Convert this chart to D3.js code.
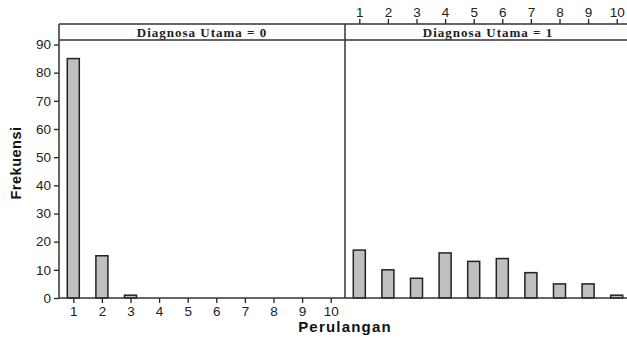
<!DOCTYPE html>
<html><head><meta charset="utf-8">
<script src="https://cdn.jsdelivr.net/npm/d3@7"></script>
<style>body{margin:0;background:#fff}svg{display:block}</style>
</head><body>
<script>
const categories = ["1","2","3","4","5","6","7","8","9","10"];
const panels = ["Diagnosa Utama = 0", "Diagnosa Utama = 1"];
const values0 = [85, 15, 1, 0, 0, 0, 0, 0, 0, 0];
const values1 = [17, 10, 7, 16, 13, 14, 9, 5, 5, 1];
const yTicks = [0,10,20,30,40,50,60,70,80,90];

(function () {
const W = 627, H = 338;
const mLeft = 59, mTop = 24, stripH = 16, mBottom = 298, panelW = 286;
const svg = d3.select("body").append("svg").attr("width", W).attr("height", H);

const y = d3.scaleLinear().domain([0, 90]).range([mBottom, mTop + 20.5]);
const series = [values0, values1];

function styleAxis(ga) {
  ga.selectAll("line").attr("stroke", "#222").attr("stroke-width", 1.3);
  ga.selectAll("text").attr("font-family", "Liberation Sans, Arial, sans-serif").attr("font-size", 13.5).attr("fill", "#222");
}

series.forEach((vals, i) => {
  const x0 = mLeft + i * panelW;
  const x = d3.scaleBand().domain(categories).range([x0, x0 + panelW]).paddingInner(0.58).paddingOuter(0.29);
  const g = svg.append("g");
  g.selectAll("rect").data(vals.map((v, k) => ({c: categories[k], v})).filter(d => d.v > 0))
    .enter().append("rect")
    .attr("x", d => x(d.c)).attr("width", x.bandwidth())
    .attr("y", d => y(d.v)).attr("height", d => mBottom - y(d.v))
    .attr("fill", "#c0c0c0").attr("stroke", "#222").attr("stroke-width", 1.5);
  svg.append("text").attr("x", x0 + panelW / 2).attr("y", mTop + 12.5)
    .attr("text-anchor", "middle").attr("font-family", "Liberation Serif, serif")
    .attr("font-weight", "bold").attr("font-size", 13).attr("fill", "#222")
    .attr("letter-spacing", 1).text(panels[i]);
  const pts = d3.scalePoint().domain(categories).range([x0 + panelW / 20, x0 + panelW - panelW / 20]);
  if (i === 0) {
    const ga = svg.append("g").attr("transform", `translate(0,${mBottom})`).call(d3.axisBottom(pts).tickSize(5).tickPadding(3));
    ga.select(".domain").remove();
    styleAxis(ga);
  } else {
    const ga = svg.append("g").attr("transform", `translate(0,${mTop})`).call(d3.axisTop(pts).tickSize(5).tickPadding(2));
    ga.select(".domain").remove();
    styleAxis(ga);
  }
});

const gy = svg.append("g").attr("transform", `translate(${mLeft},0)`)
  .call(d3.axisLeft(y).tickValues(yTicks).tickSize(5).tickPadding(3));
gy.select(".domain").remove();
styleAxis(gy);

const lc = "#333";
function hline(yy) { svg.append("line").attr("x1", mLeft).attr("x2", W).attr("y1", yy).attr("y2", yy).attr("stroke", lc).attr("stroke-width", 1.5); }
function vline(xx) { svg.append("line").attr("x1", xx).attr("x2", xx).attr("y1", mTop).attr("y2", mBottom).attr("stroke", lc).attr("stroke-width", 1.5); }
hline(mTop); hline(mTop + stripH); hline(mBottom);
vline(mLeft); vline(mLeft + panelW);

svg.append("text").attr("x", mLeft + panelW).attr("y", 332).attr("text-anchor", "middle")
  .attr("font-family", "Liberation Sans, Arial, sans-serif").attr("font-weight", "bold").attr("font-size", 15)
  .attr("letter-spacing", 1.2).attr("fill", "#111").text("Perulangan");
svg.append("text").attr("transform", `translate(21,${(mTop + mBottom) / 2 + 2}) rotate(-90)`).attr("text-anchor", "middle")
  .attr("font-family", "Liberation Sans, Arial, sans-serif").attr("font-weight", "bold").attr("font-size", 14.5)
  .attr("letter-spacing", 0.5).attr("fill", "#111").text("Frekuensi");
})();
</script>
</body></html>
